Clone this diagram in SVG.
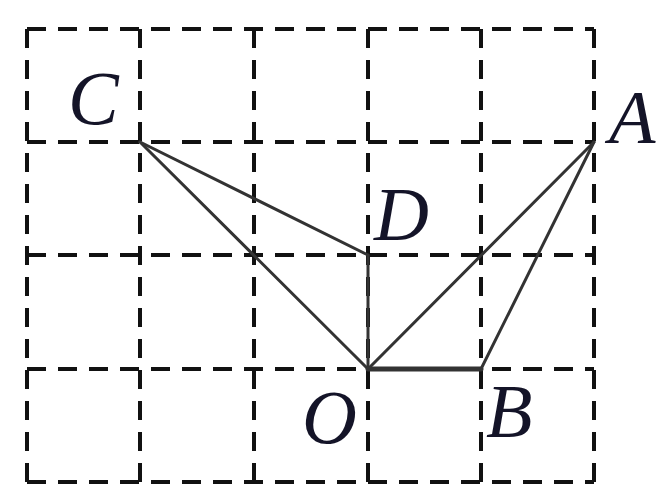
<svg xmlns="http://www.w3.org/2000/svg" width="662" height="489" viewBox="0 0 662 489">
<style>
.grid{stroke:#111;stroke-width:4;stroke-dasharray:19 12;fill:none}
.seg{stroke:#333;stroke-width:3;fill:none;stroke-linecap:round}
.lbl{font-family:"Liberation Serif",serif;font-style:italic;font-size:76px;fill:#141428}
</style>
<rect width="662" height="489" fill="#fff"/>
<g id="grid">
<path class="grid" d="M27 29H594M27 142H594M27 255H594M27 369H594M27 482H594"/>
<path class="grid" d="M27 29V482M140 29V482M254 29V482M368 29V482M481 29V482M594 29V482"/>
</g>
<g id="connectors">
<line class="seg" x1="140" y1="142" x2="368" y2="255"/>
<line class="seg" x1="140" y1="142" x2="368" y2="369"/>
<line class="seg" x1="368" y1="255" x2="368" y2="369"/>
<line class="seg" x1="368" y1="369" x2="594" y2="142"/>
<line class="seg" x1="368" y1="369" x2="481" y2="369" style="stroke-width:5"/>
<line class="seg" x1="481" y1="369" x2="594" y2="142"/>
</g>
<g id="C"><text class="lbl" x="68" y="124">C</text></g>
<g id="A"><text class="lbl" x="609" y="143">A</text></g>
<g id="D"><text class="lbl" x="374" y="240">D</text></g>
<g id="O"><text class="lbl" x="302" y="443">O</text></g>
<g id="B"><text class="lbl" x="486" y="437">B</text></g>
</svg>
